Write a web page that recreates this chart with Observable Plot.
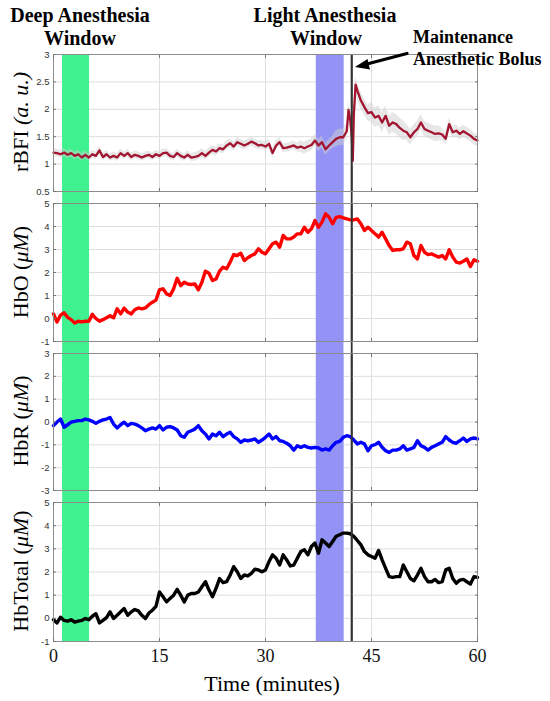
<!DOCTYPE html>
<html><head><meta charset="utf-8">
<script src="https://cdn.jsdelivr.net/npm/d3@7"></script>
<script src="https://cdn.jsdelivr.net/npm/@observablehq/plot@0.6"></script>
<style>
body{margin:0;background:#fff;}
#wrap{position:relative;width:550px;height:701px;overflow:hidden;background:#fff;font-family:"Liberation Serif","Times New Roman",serif;color:#000;}
#wrap svg{position:absolute;left:0;}
.t{position:absolute;font-weight:bold;white-space:nowrap;line-height:1;}
.c{transform:translateX(-50%);}
.yl{position:absolute;white-space:nowrap;line-height:1;font-size:22px;transform:translate(-50%,-50%) rotate(-90deg);}
.xl{position:absolute;white-space:nowrap;line-height:1;font-size:22px;transform:translateX(-50%);}
i{font-style:italic;}
</style></head><body><div id="wrap"></div>
<script>
// ---------- data ----------
const xTicks = [0, 15, 30, 45, 60];
const bolusTime = 42.2;
const windowStart = [1.3, 37.2];
const windowEnd = [5.1, 41.1];
const windowColor = ["#3ff18f", "#9393f5"];

const time = d3.range(0, 60.001, 0.5); // sample times (minutes)

const rbfiTime = d3.range(0, 41.001, 0.5)
  .concat([41.5, 41.75, 42, 42.2, 42.35, 42.5, 42.75])
  .concat(d3.range(43, 60.001, 0.5));
const rbfiValue = [
  1.21,1.2,1.18,1.21,1.17,1.2,1.15,1.18,1.12,1.17,
  1.12,1.18,1.15,1.25,1.13,1.18,1.12,1.15,1.12,1.2,
  1.15,1.2,1.13,1.17,1.15,1.12,1.15,1.17,1.13,1.18,
  1.15,1.2,1.21,1.15,1.13,1.2,1.15,1.12,1.17,1.12,
  1.13,1.15,1.2,1.15,1.21,1.26,1.23,1.29,1.27,1.34,
  1.38,1.32,1.4,1.37,1.34,1.37,1.41,1.38,1.34,1.35,
  1.32,1.37,1.2,1.34,1.4,1.29,1.3,1.32,1.34,1.3,
  1.32,1.29,1.32,1.35,1.43,1.34,1.4,1.27,1.34,1.4,
  1.46,1.49,1.49,
  1.6,1.99,1.8,1.5,1.06,1.9,2.45,
  2.34,2.16,2.04,1.93,1.95,1.85,1.88,1.76,1.88,1.7,
  1.76,1.73,1.66,1.61,1.58,1.49,1.58,1.64,1.76,1.64,
  1.61,1.58,1.55,1.56,1.54,1.46,1.73,1.58,1.61,1.55,
  1.6,1.56,1.52,1.46,1.43
];
// half-spread of the raw (grey) rBFI signal, per 5-minute block
const rbfiRawSpread = [0.07,0.07,0.07,0.07,0.08,0.08,0.08,0.11,0.15,0.18,0.14,0.11,0.11];

const hboValue = [
  0.2,-0.15,0.15,0.25,0.05,-0.05,-0.2,-0.12,-0.15,-0.12,
  -0.12,0.18,0,-0.12,-0.05,0.03,0.12,0.03,0.42,0.2,
  0.45,0.28,0.2,0.38,0.46,0.42,0.46,0.6,0.71,0.8,
  1.25,1.29,1.07,1.0,1.29,1.75,1.43,1.58,1.5,1.48,
  1.5,1.25,1.58,2.06,1.97,1.65,1.72,2.06,2.23,2.16,
  2.45,2.78,2.74,2.84,2.52,2.64,2.74,2.81,3.03,2.88,
  2.81,3.03,3.25,3.32,3.1,3.61,3.46,3.46,3.54,3.68,
  3.68,3.97,3.75,3.9,4.26,3.97,4.19,4.55,4.4,4.12,
  4.4,4.43,4.38,4.33,4.29,4.29,4.33,4.12,3.83,3.97,
  3.83,3.68,3.54,3.75,3.46,3.17,2.96,2.99,2.99,3.03,
  3.32,3.25,2.74,2.59,3.17,2.88,2.78,2.81,2.74,2.67,
  2.74,2.59,2.99,2.67,2.45,2.41,2.49,2.59,2.26,2.55,2.49
];
const hbrValue = [
  -0.16,0,0.13,-0.23,-0.12,-0.01,0.03,0.06,0.06,0.13,
  0.09,0.03,-0.06,0.03,0.09,0.13,0.2,-0.09,-0.26,-0.12,
  -0.01,-0.16,-0.06,-0.09,-0.16,-0.26,-0.38,-0.31,-0.26,-0.31,
  -0.16,-0.35,-0.23,-0.2,-0.26,-0.35,-0.6,-0.67,-0.45,-0.38,
  -0.31,-0.16,-0.38,-0.53,-0.74,-0.53,-0.6,-0.45,-0.64,-0.53,
  -0.45,-0.64,-0.74,-0.89,-0.79,-0.82,-0.79,-0.74,-0.89,-0.79,
  -0.67,-0.53,-0.74,-0.64,-0.82,-0.85,-0.93,-1.04,-1.23,-1.04,
  -1.11,-1.04,-1.11,-1.14,-1.11,-1.14,-1.23,-1.18,-1.23,-1.04,
  -0.89,-0.85,-0.67,-0.6,-0.64,-0.79,-0.96,-0.89,-0.96,-1.26,
  -1.04,-0.99,-0.89,-1.11,-1.26,-1.33,-1.23,-1.23,-1.18,-1.04,
  -1.23,-1.18,-1.11,-0.82,-1.04,-1.11,-1.23,-1.11,-1.04,-0.96,
  -0.89,-0.64,-0.79,-0.89,-0.93,-0.82,-0.7,-0.85,-0.74,-0.7,-0.74
];
const hbtValue = [
  -0.06,-0.2,0.05,-0.09,-0.12,-0.06,-0.16,-0.12,-0.09,-0.01,
  -0.06,0.09,0.2,-0.2,-0.09,0.03,0.28,-0.01,0.13,0.28,
  0.42,0.13,0.28,0.38,0.32,0.13,-0.01,0.23,0.35,0.52,
  1.14,0.93,0.71,0.86,1.0,1.25,1.0,0.71,1.0,1.07,
  1.07,1.14,1.36,1.58,1.22,0.93,1.29,1.72,1.54,1.58,
  1.87,2.23,2.01,1.72,1.87,1.83,1.94,2.12,2.09,2.01,
  2.09,2.45,2.74,2.59,2.3,2.74,2.52,2.26,2.3,2.59,
  2.88,2.96,2.74,3.1,3.25,2.81,3.39,3.25,3.1,3.32,
  3.54,3.61,3.68,3.68,3.65,3.54,3.36,3.17,2.88,2.74,
  2.67,2.59,2.93,2.52,2.16,1.8,1.77,1.8,1.8,2.3,
  2.01,1.72,1.62,1.87,2.16,1.8,1.58,1.58,1.68,1.54,
  1.58,2.09,2.16,1.72,1.51,1.65,1.68,1.58,1.48,1.8,1.77
];
const rbfiTicks = [0.5, 1, 1.5, 2, 2.5, 3];
const hboTicks = [-1, 0, 1, 2, 3, 4, 5];
const hbrTicks = [-3, -2, -1, 0, 1, 2, 3];
const hbtTicks = [-1, 0, 1, 2, 3, 4, 5];

// ---------- build ----------
const wrap = document.getElementById("wrap");
const W = 550, mL = 53, mR = 73;
const windows = windowStart.map((s, i) => ({start: s, end: windowEnd[i], color: windowColor[i]}));
const zip = (ts, vs) => ts.slice(0, vs.length).map((t, i) => ({t, v: vs[i]}));
const sans = "Liberation Sans, Arial, sans-serif";
const serif = "Liberation Serif, Times New Roman, serif";

// background layer: bands + bolus line spanning all panels (visible in gaps)
const bg = Plot.plot({
  width: W, height: 701, marginLeft: mL, marginRight: mR, marginTop: 54, marginBottom: 60,
  style: {background: "transparent"},
  x: {domain: [0, 60], axis: null},
  color: {type: "identity"},
  marks: [
    Plot.rectX(windows, {x1: "start", x2: "end", fill: "color"}),
    Plot.ruleX([bolusTime], {stroke: "#333", strokeWidth: 1.8})
  ]
});
bg.style.top = "0px";
wrap.append(bg);

function panel({top, h, domain, ticks, data, color, width, under = [], bottom = false}) {
  const mT = 8, mB = bottom ? 34 : 8;
  const p = Plot.plot({
    width: W, height: h + mT + mB, marginLeft: mL, marginRight: mR, marginTop: mT, marginBottom: mB,
    style: {background: "transparent", overflow: "visible"},
    x: {domain: [0, 60], axis: null},
    y: {domain, axis: null},
    color: {type: "identity"},
    marks: [
      Plot.gridX(xTicks.slice(1, -1), {stroke: "#dedede", strokeOpacity: 1}),
      Plot.gridY(ticks.slice(1, -1), {stroke: "#dedede", strokeOpacity: 1}),
      Plot.rectX(windows, {x1: "start", x2: "end", fill: "color"}),
      ...under,
      Plot.line(data, {x: "t", y: "v", stroke: color, strokeWidth: width, strokeLinejoin: "round"}),
      Plot.ruleX([bolusTime], {stroke: "#333", strokeWidth: 1.8}),
      Plot.frame({stroke: "#8c8c8c", strokeWidth: 1}),
      Plot.axisY(ticks, {anchor: "left", tickSize: 3, dx: 3, fill: "none", stroke: "#777", label: null}),
      Plot.axisY(ticks, {anchor: "right", tickSize: 3, dx: -3, fill: "none", stroke: "#777", label: null}),
      Plot.axisX(xTicks, {anchor: "top", tickSize: 3, dy: 3, fill: "none", stroke: "#777", label: null}),
      Plot.axisX(xTicks, {anchor: "bottom", tickSize: 3, dy: -3, fill: "none", stroke: "#777", label: null}),
      Plot.axisY(ticks, {anchor: "left", tickSize: 0, tickPadding: 4, fontSize: 9.5, fontFamily: sans, fill: "#333", stroke: "none", tickFormat: d => String(d), label: null}),
      bottom ? Plot.axisX(xTicks, {anchor: "bottom", tickSize: 0, tickPadding: 8, fontSize: 18, fontFamily: serif, fill: "#111", stroke: "none", tickFormat: d => String(d), label: null}) : null
    ]
  });
  p.style.top = (top - mT) + "px";
  wrap.append(p);
}

const rbfiData = zip(rbfiTime, rbfiValue);
const rawBand = rbfiData.map(d => {
  const s = rbfiRawSpread[Math.min(rbfiRawSpread.length - 1, Math.floor(d.t / 5))];
  return {t: d.t, lo: d.v - s, hi: d.v + s};
});

panel({top: 54, h: 137, domain: [0.5, 3], ticks: rbfiTicks, data: rbfiData, color: "#a2142f", width: 2.3,
  under: [Plot.areaY(rawBand, {x: "t", y1: "lo", y2: "hi", fill: "#cfcfcf", fillOpacity: 0.5})]});
panel({top: 203, h: 138, domain: [-1, 5], ticks: hboTicks, data: zip(time, hboValue), color: "#ff0000", width: 3.4});
panel({top: 353, h: 137, domain: [-3, 3], ticks: hbrTicks, data: zip(time, hbrValue), color: "#0000ff", width: 3.4});
panel({top: 502, h: 139, domain: [-1, 5], ticks: hbtTicks, data: zip(time, hbtValue), color: "#000000", width: 3.4, bottom: true});

// ---------- text ----------
function html(s) { const d = document.createElement("div"); d.innerHTML = s; return d.firstChild; }
wrap.append(html(`<div class="t c" style="left:80px;top:5px;font-size:20px">Deep Anesthesia</div>`));
wrap.append(html(`<div class="t c" style="left:80px;top:28px;font-size:20px">Window</div>`));
wrap.append(html(`<div class="t c" style="left:325px;top:5px;font-size:20px">Light Anesthesia</div>`));
wrap.append(html(`<div class="t c" style="left:326px;top:28px;font-size:20px">Window</div>`));
wrap.append(html(`<div class="t" style="left:413px;top:28px;font-size:18px">Maintenance</div>`));
wrap.append(html(`<div class="t" style="left:413px;top:50px;font-size:18px">Anesthetic Bolus</div>`));

wrap.append(html(`<div class="yl" style="left:21px;top:122px">rBFI <i>(a. u.)</i></div>`));
wrap.append(html(`<div class="yl" style="left:21px;top:272px">HbO (<i>μM</i>)</div>`));
wrap.append(html(`<div class="yl" style="left:21px;top:421px">HbR (<i>μM</i>)</div>`));
wrap.append(html(`<div class="yl" style="left:21px;top:571px">HbTotal (<i>μM</i>)</div>`));
wrap.append(html(`<div class="xl" style="left:272px;top:673px">Time (minutes)</div>`));

// arrow annotation
const ns = "http://www.w3.org/2000/svg";
const a = document.createElementNS(ns, "svg");
a.setAttribute("width", 550); a.setAttribute("height", 701);
a.style.top = "0px"; a.style.pointerEvents = "none";
a.innerHTML = `<line x1="407" y1="53.5" x2="366" y2="64.3" stroke="#000" stroke-width="3.2" stroke-linecap="round"/>
<polygon points="355,67 367.5,59 370,69.5" fill="#000"/>`;
wrap.append(a);
</script>
</body></html>
